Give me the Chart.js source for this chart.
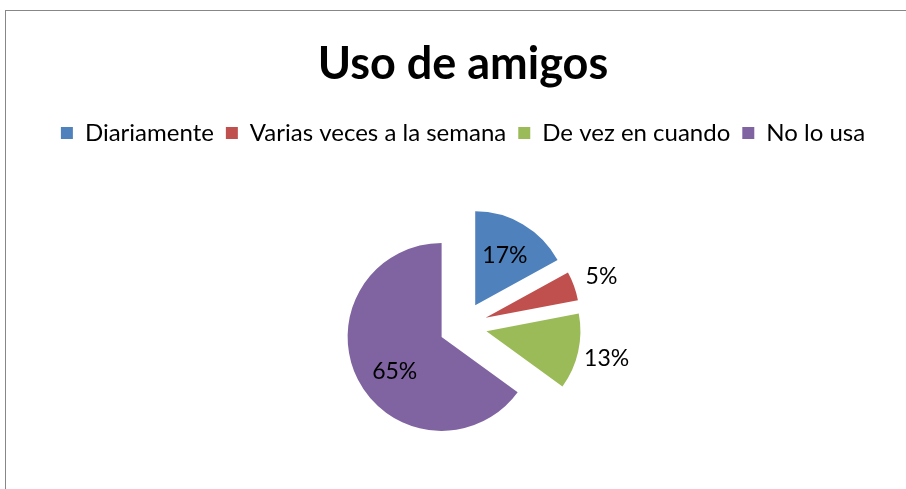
<!DOCTYPE html>
<html lang="es">
<head>
<meta charset="UTF-8">
<title>Uso de amigos</title>
<style>
    html, body {
        margin: 0;
        padding: 0;
        background: #fff;
        overflow: hidden;
    }
    .frame {
        position: absolute;
        left: 5px;
        top: 10px;
        width: 1000px;
        height: 600px;
        border-left: 1px solid #878787;
        border-top: 1px solid #878787;
    }
    #chart {
        position: absolute;
        left: 0;
        top: 0;
    }
</style>
</head>
<body>
<div class="frame"></div>
<!-- a bit taller than the window so the pie sits lower, the rest is cut off -->
<canvas id="chart" width="906" height="497"></canvas>

<script src="https://cdn.jsdelivr.net/npm/chart.js"></script>
<script>
    // data
    const categories = ['Diariamente', 'Varias veces a la semana', 'De vez en cuando', 'No lo usa'];
    const percents = [17, 5, 13, 65];
    const sliceColors = ['#4F81BD', '#C0504D', '#9BBB59', '#8064A2'];

    const GAP = 24;      // how far each slice is pulled out
    const RADIUS = 94;

    // draw the slices pulled out from the middle (Excel style explode)
    const explode = {
        id: 'explode',
        beforeDatasetDraw(chart, args) {
            const ctx = chart.ctx;
            args.meta.data.forEach(arc => {
                const mid = (arc.startAngle + arc.endAngle) / 2;
                ctx.save();
                ctx.translate(Math.cos(mid) * GAP, Math.sin(mid) * GAP);
                arc.draw(ctx);
                ctx.restore();
            });
            return false;
        }
    };

    // percentage labels, inside big slices, outside small ones
    const pctLabels = {
        id: 'pctLabels',
        afterDatasetsDraw(chart) {
            const ctx = chart.ctx;
            const meta = chart.getDatasetMeta(0);
            const values = chart.data.datasets[0].data;
            const total = values.reduce((a, b) => a + b, 0);
            ctx.save();
            ctx.font = '23px Lato, sans-serif';
            ctx.fillStyle = '#000';
            ctx.textAlign = 'center';
            ctx.textBaseline = 'middle';
            meta.data.forEach((arc, i) => {
                const share = values[i] / total;
                let mid = (arc.startAngle + arc.endAngle) / 2;
                // Excel nudges the label of the big slice a little off its middle
                if (share > 0.5) mid -= 0.12;
                const r = GAP + (share < 0.15 ? arc.outerRadius * 1.31 : arc.outerRadius * 0.62);
                const x = arc.x + Math.cos(mid) * r;
                const y = arc.y + Math.sin(mid) * r;
                ctx.fillText(Math.round(share * 100) + '%', x, y);
            });
            ctx.restore();
        }
    };

    new Chart(document.getElementById('chart'), {
        type: 'pie',
        data: {
            labels: categories,
            datasets: [{
                data: percents,
                backgroundColor: sliceColors,
                borderWidth: 0,
                radius: RADIUS
            }]
        },
        options: {
            responsive: false,
            animation: false,
            layout: {
                padding: { left: 20, right: 0, top: 10, bottom: 0 }
            },
            plugins: {
                title: {
                    display: true,
                    text: 'Uso de amigos',
                    color: '#000',
                    font: { family: 'Lato, sans-serif', size: 45, weight: 'bold', lineHeight: 1.2 },
                    padding: { top: 27, bottom: 18 }
                },
                legend: {
                    position: 'top',
                    labels: {
                        color: '#000',
                        boxWidth: 12,
                        boxHeight: 12,
                        padding: 12,
                        font: { family: 'Lato, sans-serif', size: 24 }
                    }
                },
                tooltip: { enabled: false }
            }
        },
        plugins: [explode, pctLabels]
    });
</script>
</body>
</html>
